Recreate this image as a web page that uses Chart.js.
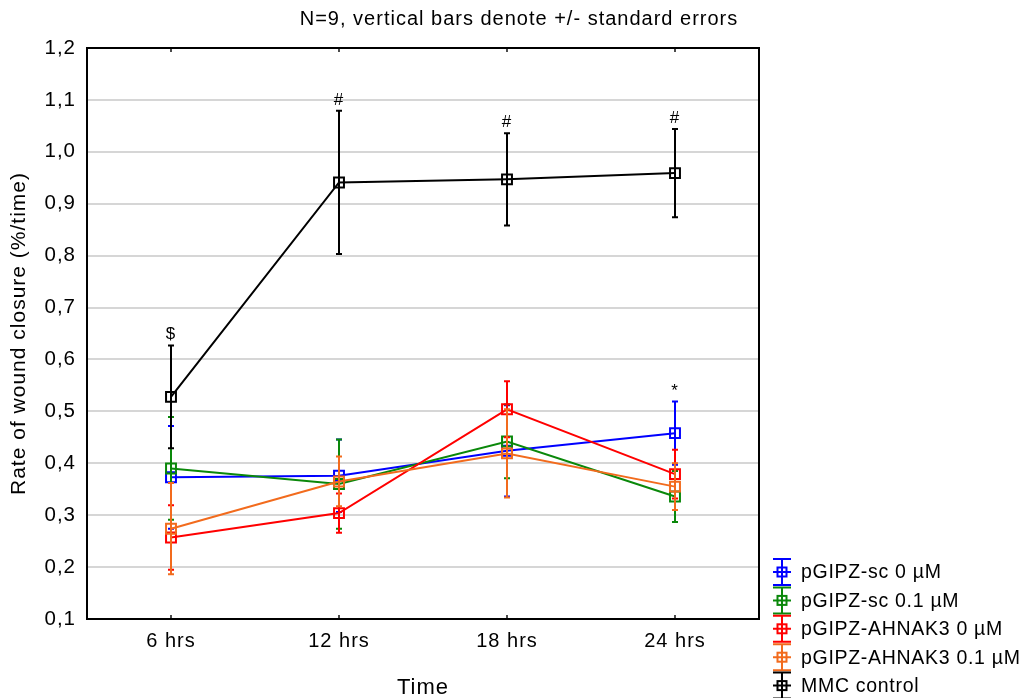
<!DOCTYPE html>
<html>
<head>
<meta charset="utf-8">
<title>Rate of wound closure</title>
<script src="https://cdn.jsdelivr.net/npm/chart.js@4.4.1/dist/chart.umd.min.js"></script>
<style>
  html, body { margin: 0; padding: 0; background: #ffffff; }
  canvas { display: block; }
</style>
</head>
<body>
<canvas id="chart" width="1028" height="698"></canvas>
<script>
// Time points
const timeLabels = ['6 hrs', '12 hrs', '18 hrs', '24 hrs'];

// Series names
const seriesNames = ['pGIPZ-sc 0 \u00b5M', 'pGIPZ-sc 0.1 \u00b5M', 'pGIPZ-AHNAK3 0 \u00b5M', 'pGIPZ-AHNAK3 0.1 \u00b5M', 'MMC control'];

// Mean rate of wound closure per time point
const scZero        = [0.373, 0.376, 0.424, 0.458];
const scPointOne    = [0.390, 0.360, 0.442, 0.336];
const ahnakZero     = [0.257, 0.304, 0.504, 0.379];
const ahnakPointOne = [0.274, 0.365, 0.419, 0.355];
const mmcControl    = [0.528, 0.941, 0.947, 0.959];

// Standard errors
const scZeroSE        = [0.099, 0.070, 0.088, 0.061];
const scPointOneSE    = [0.099, 0.086, 0.071, 0.049];
const ahnakZeroSE     = [0.062, 0.038, 0.054, 0.047];
const ahnakPointOneSE = [0.088, 0.048, 0.085, 0.045];
const mmcControlSE    = [0.099, 0.138, 0.089, 0.085];

// Significance marks placed above the upper error bar
const scZeroMarks     = ['', '', '', '*'];
const mmcControlMarks = ['$', '#', '#', '#'];

// Y axis range and step
const yMin = 0.1, yMax = 1.2, yStep = 0.1;

const chartTitle = 'N=9, vertical bars denote +/- standard errors';
const seriesColors = ['#0000ff', '#0a880a', '#ff0000', '#f26b1d', '#000000'];
const FONT = '"Liberation Sans", Arial, sans-serif';

const means = [scZero, scPointOne, ahnakZero, ahnakPointOne, mmcControl];
const errors = [scZeroSE, scPointOneSE, ahnakZeroSE, ahnakPointOneSE, mmcControlSE];
const marks = [scZeroMarks, null, null, null, mmcControlMarks];

const datasets = seriesNames.map((name, i) => ({
  label: name,
  data: means[i],
  se: errors[i],
  marks: marks[i],
  borderColor: seriesColors[i],
  backgroundColor: 'rgba(255,255,255,0)',
  borderWidth: 2,
  pointStyle: 'rect',
  pointRadius: 7,
  pointBorderWidth: 2,
  pointBackgroundColor: 'rgba(255,255,255,0)',
  pointBorderColor: seriesColors[i],
  tension: 0,
  fill: false,
  order: seriesNames.length - i
}));

// Wider glyph spacing for all canvas text
const spacingPlugin = {
  id: 'spacing',
  beforeUpdate(chart) { chart.ctx.letterSpacing = '1px'; },
  beforeDraw(chart) { chart.ctx.letterSpacing = '1px'; }
};

// Heading centred across the whole canvas
const headingPlugin = {
  id: 'heading',
  afterDraw(chart) {
    const ctx = chart.ctx;
    ctx.save();
    ctx.fillStyle = '#000';
    ctx.font = '20px ' + FONT;
    ctx.textAlign = 'center';
    ctx.textBaseline = 'middle';
    ctx.fillText(chartTitle, 519, 19);
    ctx.restore();
  }
};

// Plot frame with inward tick marks at each time point
const framePlugin = {
  id: 'frame',
  beforeDatasetsDraw(chart) {
    const { ctx, chartArea: a, scales: { x } } = chart;
    ctx.save();
    ctx.strokeStyle = '#000';
    ctx.lineWidth = 2;
    ctx.strokeRect(a.left, a.top, a.right - a.left, a.bottom - a.top);
    ctx.lineWidth = 1.4;
    ctx.beginPath();
    timeLabels.forEach((_, i) => {
      const px = x.getPixelForValue(i);
      ctx.moveTo(px, a.bottom); ctx.lineTo(px, a.bottom - 4);
      ctx.moveTo(px, a.top); ctx.lineTo(px, a.top + 4);
    });
    ctx.stroke();
    ctx.restore();
  }
};

// Standard error bars, drawn just below each series' line
const errorBarPlugin = {
  id: 'errorBars',
  beforeDatasetDraw(chart, args) {
    const ds = chart.data.datasets[args.index];
    const y = chart.scales.y;
    const ctx = chart.ctx;
    const cap = 3;
    ctx.save();
    ctx.strokeStyle = ds.borderColor;
    ctx.lineWidth = 2;
    args.meta.data.forEach((pt, i) => {
      const m = ds.data[i], e = ds.se[i];
      const top = y.getPixelForValue(m + e);
      const bot = y.getPixelForValue(m - e);
      ctx.beginPath();
      ctx.moveTo(pt.x, top); ctx.lineTo(pt.x, bot);
      ctx.moveTo(pt.x - cap, top); ctx.lineTo(pt.x + cap, top);
      ctx.moveTo(pt.x - cap, bot); ctx.lineTo(pt.x + cap, bot);
      ctx.stroke();
    });
    ctx.restore();
  },
  afterDatasetsDraw(chart) {
    const ctx = chart.ctx;
    const y = chart.scales.y;
    ctx.save();
    ctx.fillStyle = '#000';
    ctx.font = '17px ' + FONT;
    ctx.textAlign = 'center';
    ctx.textBaseline = 'alphabetic';
    chart.data.datasets.forEach((ds, di) => {
      if (!ds.marks) return;
      const meta = chart.getDatasetMeta(di);
      ds.marks.forEach((mk, i) => {
        if (!mk) return;
        const top = y.getPixelForValue(ds.data[i] + ds.se[i]);
        ctx.fillText(mk, meta.data[i].x, top - 6);
      });
    });
    ctx.restore();
  }
};

// Legend with error-bar symbols, bottom right
const legendPlugin = {
  id: 'sideLegend',
  afterDraw(chart) {
    const ctx = chart.ctx;
    const x0 = 782, y0 = 572, rowH = 28.4;
    ctx.save();
    ctx.font = '19.5px ' + FONT;
    ctx.letterSpacing = '0.7px';
    ctx.textBaseline = 'middle';
    ctx.textAlign = 'left';
    chart.data.datasets.forEach((ds, i) => {
      const cy = y0 + i * rowH;
      ctx.strokeStyle = ds.borderColor;
      ctx.lineWidth = 2;
      ctx.beginPath();
      ctx.moveTo(x0, cy - 13); ctx.lineTo(x0, cy + 13);
      ctx.moveTo(x0 - 9, cy - 13); ctx.lineTo(x0 + 9, cy - 13);
      ctx.moveTo(x0 - 9, cy + 13); ctx.lineTo(x0 + 9, cy + 13);
      ctx.moveTo(x0 - 9, cy); ctx.lineTo(x0 + 9, cy);
      ctx.stroke();
      ctx.strokeRect(x0 - 4.5, cy - 4.5, 9, 9);
      ctx.fillStyle = '#000';
      ctx.fillText(ds.label, 801, cy + 1);
    });
    ctx.restore();
  }
};

new Chart(document.getElementById('chart'), {
  type: 'line',
  data: { labels: timeLabels, datasets },
  plugins: [spacingPlugin, framePlugin, errorBarPlugin, legendPlugin, headingPlugin],
  options: {
    responsive: false,
    animation: false,
    devicePixelRatio: 1,
    layout: { padding: { left: 0, right: 269, top: 48, bottom: 0 } },
    plugins: {
      legend: { display: false },
      tooltip: { enabled: false },
      title: { display: false }
    },
    scales: {
      x: {
        type: 'category',
        offset: true,
        grid: { display: false, drawTicks: false },
        border: { display: false },
        ticks: { color: '#000', padding: 10, font: { family: FONT, size: 20 } },
        title: {
          display: true, text: 'Time', color: '#000',
          font: { family: FONT, size: 22, lineHeight: 1 },
          padding: { top: 0, bottom: -1 }
        },
        afterFit(scale) { scale.height = 79; }
      },
      y: {
        min: yMin, max: yMax,
        grid: { color: '#d6d6d6', lineWidth: 2, drawTicks: false },
        border: { display: false },
        ticks: {
          stepSize: yStep, color: '#000', padding: 11,
          font: { family: FONT, size: 20.5 },
          callback: v => v.toFixed(1).replace('.', ',')
        },
        title: {
          display: true, text: 'Rate of wound closure (%/time)', color: '#000',
          font: { family: FONT, size: 21, lineHeight: 1.2 },
          padding: { top: 7, bottom: 0 }
        },
        afterFit(scale) { scale.width = 87; }
      }
    }
  }
});
</script>
</body>
</html>
